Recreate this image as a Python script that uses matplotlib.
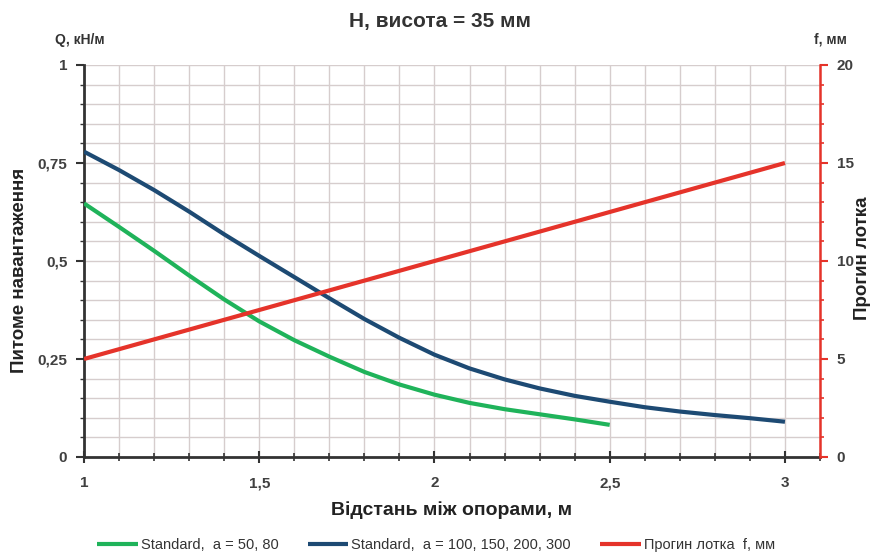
import matplotlib
matplotlib.use("Agg")
import matplotlib.pyplot as plt
from matplotlib.ticker import MultipleLocator, FuncFormatter

plt.rcParams['font.family'] = ['Liberation Sans', 'DejaVu Sans']

# Data
x_green = [1.0, 1.1, 1.2, 1.3, 1.4, 1.5, 1.6, 1.7, 1.8, 1.9, 2.0, 2.1, 2.2, 2.3, 2.4, 2.5]
q_green = [0.647, 0.587, 0.526, 0.463, 0.402, 0.346, 0.298, 0.256, 0.217, 0.185, 0.159, 0.138, 0.122, 0.109, 0.096, 0.082]

x_blue = [1.0, 1.1, 1.2, 1.3, 1.4, 1.5, 1.6, 1.7, 1.8, 1.9, 2.0, 2.1, 2.2, 2.3, 2.4, 2.5,
          2.6, 2.7, 2.8, 2.9, 3.0]
q_blue = [0.779, 0.732, 0.681, 0.626, 0.568, 0.513, 0.459, 0.405, 0.352, 0.304, 0.261, 0.226,
          0.198, 0.175, 0.156, 0.141, 0.127, 0.116, 0.107, 0.099, 0.090]

x_red = [1.0, 3.0]
f_red = [5.0, 15.0]

labels = ["Standard,  a = 50, 80", "Standard,  a = 100, 150, 200, 300", "Прогин лотка  f, мм"]
title = "H, висота = 35 мм"

GREEN = "#1fb35a"
BLUE = "#1d4a73"
RED = "#e5332a"
GRID = "#d6cdcd"
TXT = "#404040"

fig = plt.figure(figsize=(8.72, 5.56), dpi=100)
ax = fig.add_axes([84/872, 1-457/556, (820-84)/872, (457-65)/556])
ax2 = ax.twinx()

ax.set_xlim(1, 3.1)
ax.set_ylim(0, 1)
ax2.set_ylim(0, 20)

ax.xaxis.set_major_locator(MultipleLocator(0.5))
ax.xaxis.set_minor_locator(MultipleLocator(0.1))
ax.yaxis.set_major_locator(MultipleLocator(0.25))
ax.yaxis.set_minor_locator(MultipleLocator(0.05))
ax2.yaxis.set_major_locator(MultipleLocator(5))
ax2.yaxis.set_minor_locator(MultipleLocator(1))

def comma(v, pos):
    return ("%g" % v).replace(".", ",")
ax.xaxis.set_major_formatter(FuncFormatter(comma))
ax.yaxis.set_major_formatter(FuncFormatter(comma))

ax.grid(which='both', color=GRID, linewidth=1.0)
ax.set_axisbelow(True)

l1, = ax.plot(x_green, q_green, color=GREEN, lw=3, solid_capstyle='butt', solid_joinstyle='round', zorder=3)
l2, = ax.plot(x_blue, q_blue, color=BLUE, lw=3, solid_capstyle='butt', solid_joinstyle='round', zorder=3)
l3, = ax2.plot(x_red, f_red, color=RED, lw=3, solid_capstyle='butt', zorder=3)

ax.spines['top'].set_visible(False)
ax2.spines['top'].set_visible(False)
ax.spines['right'].set_visible(False)
ax2.spines['left'].set_visible(False)
ax2.spines['bottom'].set_visible(False)
ax2.spines['right'].set_color(RED)
ax2.spines['right'].set_linewidth(1.8)
ax.spines['left'].set_color("#333333")
ax.spines['left'].set_linewidth(2)
ax.spines['bottom'].set_color("#333333")
ax.spines['bottom'].set_linewidth(2)

ax.tick_params(axis='x', which='major', direction='inout', length=8, width=1.5, color="#333333",
               labelsize=11, labelcolor=TXT, pad=10)
ax.tick_params(axis='x', which='minor', direction='inout', length=6, width=1.2, color="#333333")
ax.tick_params(axis='y', which='major', direction='out', length=6, width=1.5, color="#333333",
               labelsize=11, labelcolor=TXT, pad=6)
ax.tick_params(axis='y', which='minor', direction='out', length=3, width=1, color="#333333")
ax2.tick_params(axis='y', which='major', direction='out', length=6, width=1.5, color=RED,
                labelsize=11, labelcolor=TXT, pad=6)
ax2.tick_params(axis='y', which='minor', direction='out', length=3, width=1.2, color=RED)

for lab in ax.get_xticklabels() + ax.get_yticklabels() + ax2.get_yticklabels():
    lab.set_fontweight('bold')

fig.text(0.505, 0.962, title, ha='center', va='center', fontsize=15, fontweight='bold', color="#333333")
fig.text(80/872, 1-40/556, "Q, кН/м", ha='center', va='center', fontsize=10, fontweight='bold', color="#333333")
fig.text(830/872, 1-40/556, "f, мм", ha='center', va='center', fontsize=10, fontweight='bold', color="#333333")
fig.text(20/872, 1-270/556, "Питоме навантаження", ha='center', va='center', rotation=90,
         fontsize=13.5, fontweight='bold', color="#222222")
fig.text(862/872, 1-258/556, "Прогин лотка", ha='center', va='center', rotation=90,
         fontsize=13.5, fontweight='bold', color="#222222")
ax.set_xlabel("Відстань між опорами, м", fontsize=14, fontweight='bold', color="#222222", labelpad=8)

fig.legend([l1, l2, l3], labels, loc='center', bbox_to_anchor=(0.5, 1-545/556), ncol=3,
           frameon=False, fontsize=10.5, handlelength=2.8, columnspacing=2.0, handletextpad=0.2,
           labelcolor="#333333")

fig.savefig("out.png", dpi=100, facecolor='white')
